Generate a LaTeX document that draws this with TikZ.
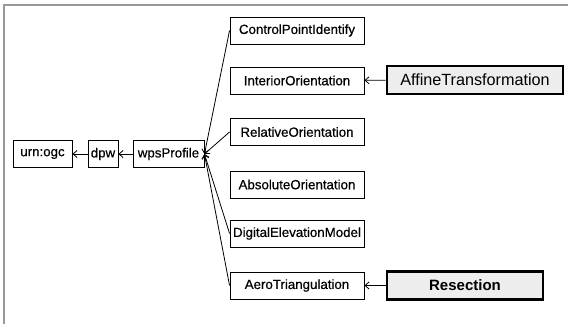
\documentclass[tikz,border=0pt]{standalone}
\usepackage{fontspec}
\setmainfont{Liberation Sans}
\newfontfamily\medfont[FakeBold=0.5]{Liberation Sans}
\usetikzlibrary{arrows.meta}
\begin{document}
\begin{tikzpicture}[x=1pt,y=-1pt,
  box/.style={draw=black,line width=0.9pt,fill=white,inner sep=0pt,minimum height=27pt,font=\medfont\fontsize{13.3}{16}\selectfont},
  child/.style={box,minimum width=134pt},
  ext/.style={draw=black,line width=2.6pt,fill=black!7,inner sep=0pt,minimum height=28pt,font=\fontsize{16.2}{19}\selectfont},
  arr/.style={line width=0.8pt,-{Straight Barb[length=4pt,width=7pt]}},
  frameline/.style={draw=black!40,line width=1.5pt}]
\useasboundingbox (0,0) rectangle (568,324);
\draw[frameline] (4,324) -- (4,5) -- (568,5);
\node[box,minimum width=59pt] (urn) at (42.5,154) {urn:ogc};
\node[box,minimum width=30pt] (dpw) at (103,154) {dpw};
\node[box,minimum width=71pt] (wps) at (168.5,154) {wpsProfile};
\node[child] (cpi) at (297,30.5) {ControlPointIdentify};
\node[child] (io) at (297,80.5) {InteriorOrientation};
\node[child] (ro) at (297,132) {RelativeOrientation};
\node[child] (ao) at (297,184.5) {AbsoluteOrientation};
\node[child] (dem) at (297,233.5) {DigitalElevationModel};
\node[child] (at) at (297,285.5) {AeroTriangulation};
\node[ext,minimum width=176pt] (aff) at (475,80) {AffineTransformation};
\node[ext,minimum width=156pt,font=\fontsize{15}{18}\selectfont\bfseries] (res) at (465,285.5) {Resection};
\draw[arr] (dpw) -- (urn);
\draw[arr] (wps) -- (dpw);
\draw[arr] (cpi.west) -- (wps.east);
\draw[arr] (ro.west) -- (wps.east);
\draw[arr] (dem.west) -- (wps.east);
\draw[arr] (at.west) -- (wps.east);
\draw[arr] (aff) -- (io);
\draw[arr] (res) -- (at);
\end{tikzpicture}
\end{document}
